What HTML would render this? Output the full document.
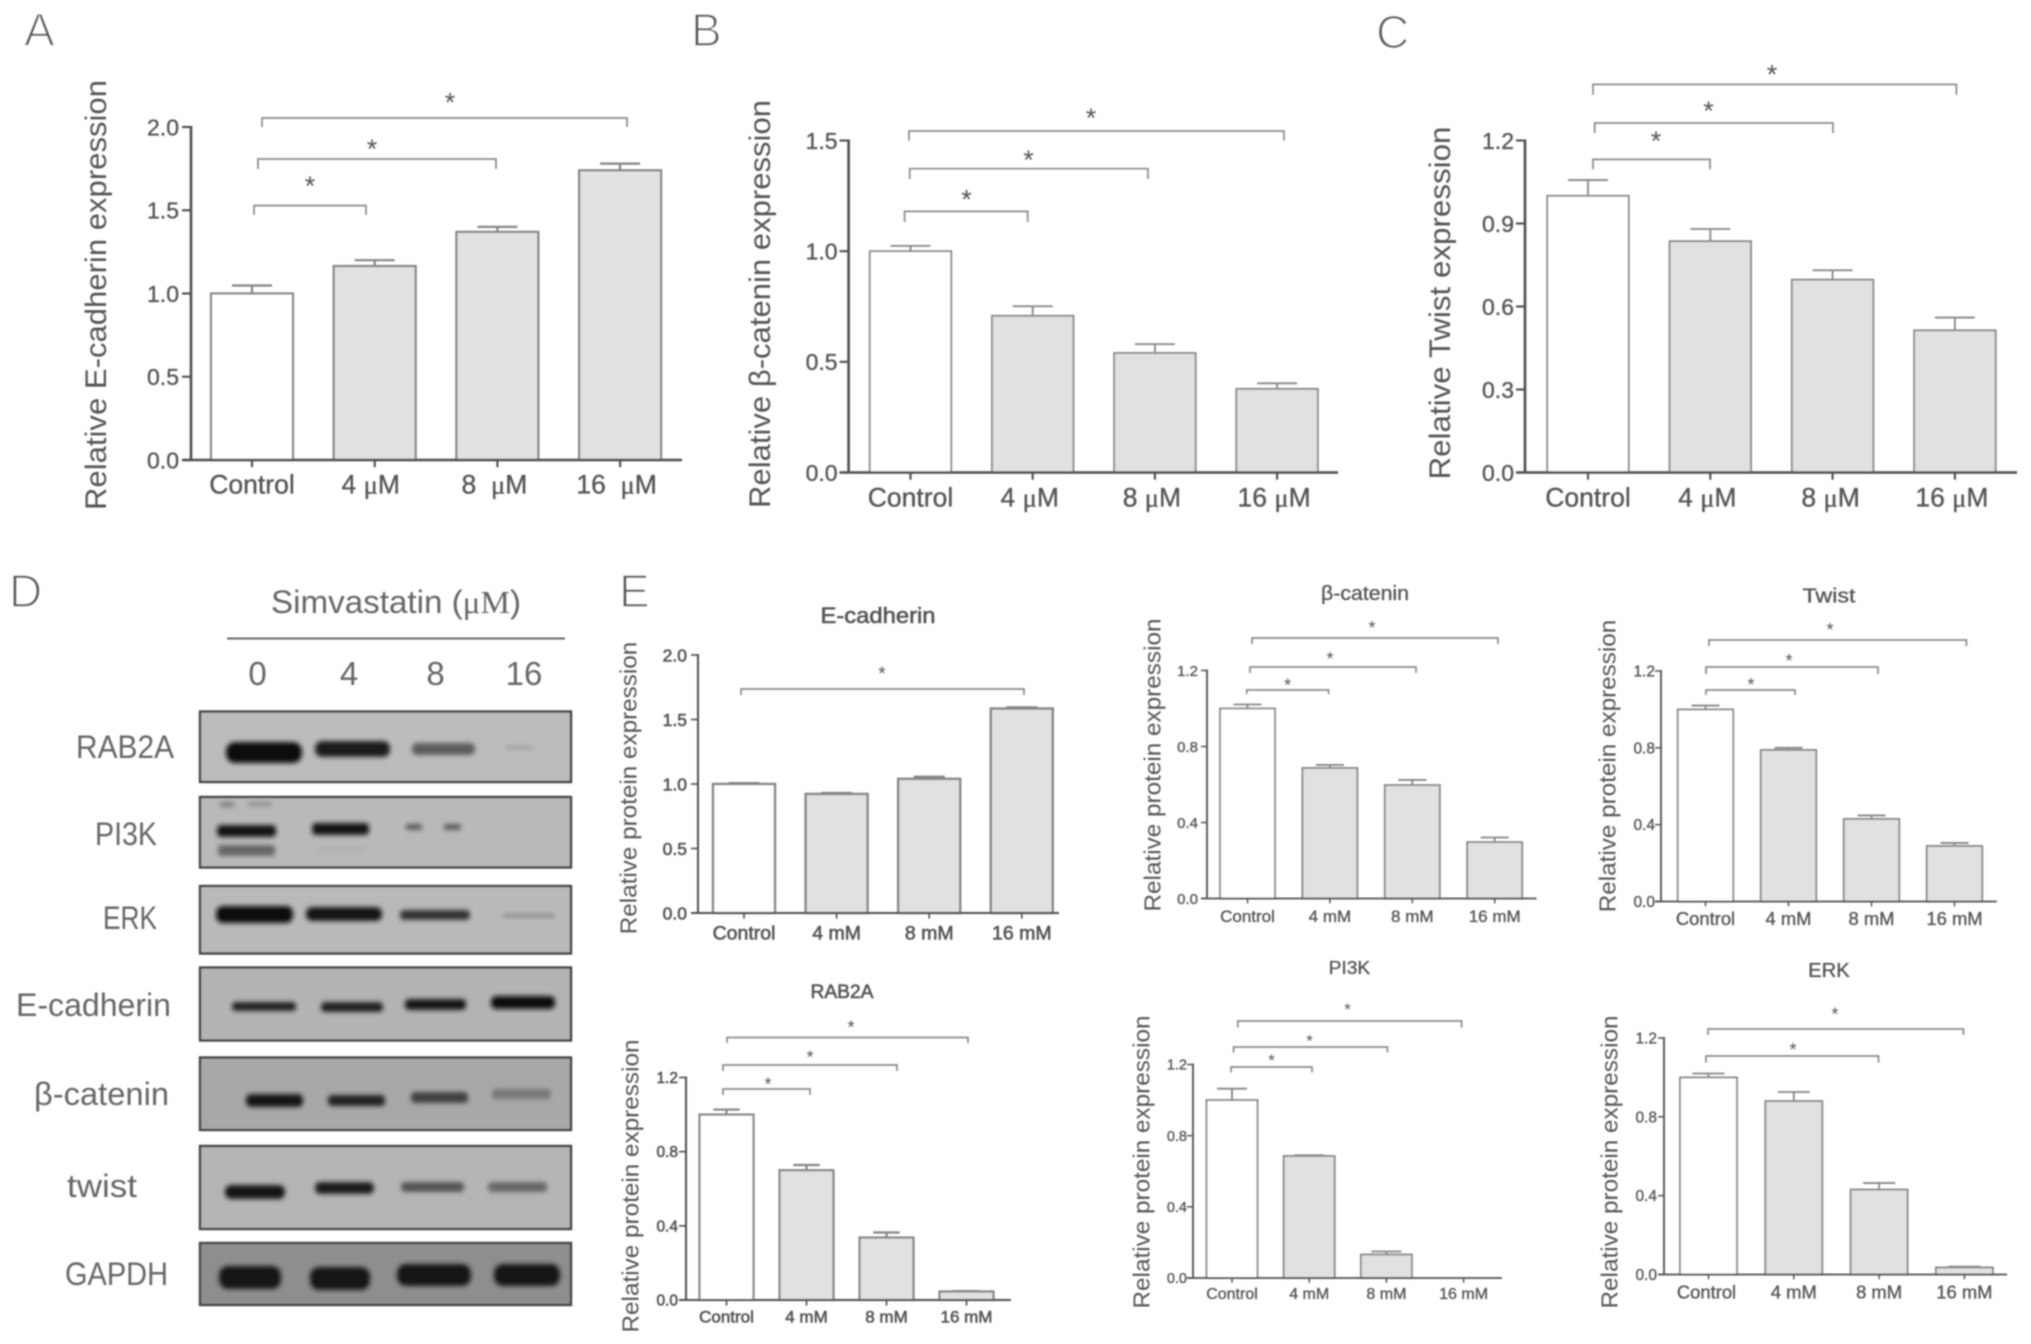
<!DOCTYPE html>
<html lang="en">
<head>
<meta charset="utf-8">
<title>Simvastatin expression figure</title>
<style>
html,body{margin:0;padding:0;background:#fff;}
svg{display:block;}
text{font-family:"Liberation Sans",sans-serif;fill:#555;white-space:pre;}
.panel{fill:#555;stroke:#fff;stroke-width:1.3px;paint-order:normal;}
</style>
</head>
<body>
<svg xmlns="http://www.w3.org/2000/svg" width="2031" height="1344" viewBox="0 0 2031 1344">
<defs>
<filter id="soft" x="-2%" y="-2%" width="104%" height="104%"><feGaussianBlur stdDeviation="0.7"/></filter>
<filter id="bandBlur" x="-30%" y="-100%" width="160%" height="300%"><feGaussianBlur stdDeviation="2.4"/></filter>
</defs>
<g id="root" filter="url(#soft)">
<text class="panel" x="24" y="46" font-size="46">A</text>
<text class="panel" x="691" y="46" font-size="46">B</text>
<text class="panel" x="1376" y="48" font-size="46">C</text>
<text class="panel" x="9" y="607" font-size="46">D</text>
<text class="panel" x="619" y="607" font-size="46">E</text>

<g id="chartA"></g>
<g id="chartB"></g>
<g id="chartC"></g>
<g id="chartEcad"></g>
<g id="chartRab"></g>
<g id="chartBeta"></g>
<g id="chartTwist"></g>
<g id="chartPi3k"></g>
<g id="chartErk"></g>

<g>
<text x="271" y="613" font-size="32" textLength="250" lengthAdjust="spacingAndGlyphs" style="fill:#666">Simvastatin (<tspan style="font-family:'Liberation Serif',serif">μM</tspan>)</text>
<rect x="227" y="637.5" width="338" height="2" fill="#666"/>
<text x="257.5" y="685" font-size="33" text-anchor="middle" style="fill:#666">0</text>
<text x="349" y="685" font-size="33" text-anchor="middle" style="fill:#666">4</text>
<text x="435.5" y="685" font-size="33" text-anchor="middle" style="fill:#666">8</text>
<text x="524" y="685" font-size="33" text-anchor="middle" style="fill:#666">16</text>

<text x="76" y="758" font-size="32" textLength="98" lengthAdjust="spacingAndGlyphs" style="fill:#666">RAB2A</text>
<text x="95" y="845" font-size="32" textLength="62" lengthAdjust="spacingAndGlyphs" style="fill:#666">PI3K</text>
<text x="103" y="929" font-size="32" textLength="54" lengthAdjust="spacingAndGlyphs" style="fill:#666">ERK</text>
<text x="16" y="1016" font-size="32" textLength="155" lengthAdjust="spacingAndGlyphs" style="fill:#666">E-cadherin</text>
<text x="34" y="1105" font-size="32" textLength="135" lengthAdjust="spacingAndGlyphs" style="fill:#666">β-catenin</text>
<text x="67" y="1197" font-size="32" textLength="70" lengthAdjust="spacingAndGlyphs" style="fill:#666">twist</text>
<text x="65" y="1285" font-size="32" textLength="103" lengthAdjust="spacingAndGlyphs" style="fill:#666">GAPDH</text>

<g>
<rect x="200" y="711.5" width="371" height="70.5" fill="#bcbcbc" stroke="#444" stroke-width="2.4"/>
<g filter="url(#bandBlur)">
<rect x="226" y="742" width="76" height="21" rx="9" fill="#101010"/>
<rect x="315" y="741" width="75" height="16" rx="7" fill="#1c1c1c"/>
<rect x="412" y="743" width="63" height="12" rx="5" fill="#5c5c5c"/>
<rect x="505" y="746" width="28" height="3" rx="1.5" fill="#9a9a9a"/>
</g>
</g>
<g>
<rect x="200" y="797" width="371" height="70.5" fill="#b9b9b9" stroke="#444" stroke-width="2.4"/>
<g filter="url(#bandBlur)">
<rect x="220" y="802" width="14" height="5" fill="#808080"/>
<rect x="248" y="802" width="24" height="4" fill="#8d8d8d"/>
<rect x="217" y="825" width="59" height="12" rx="4" fill="#141414"/>
<rect x="218" y="845" width="57" height="11" rx="3" fill="#666"/>
<rect x="312" y="823" width="57" height="12" rx="4" fill="#181818"/>
<rect x="318" y="848" width="48" height="2" fill="#a5a5a5"/>
<rect x="406" y="824" width="16" height="6" rx="2" fill="#5c5c5c"/>
<rect x="444" y="824" width="17" height="6" rx="2" fill="#5c5c5c"/>
</g>
</g>
<g>
<rect x="200" y="886" width="371" height="67.5" fill="#b9b9b9" stroke="#444" stroke-width="2.4"/>
<g filter="url(#bandBlur)">
<rect x="216" y="906" width="77" height="17" rx="7" fill="#101010"/>
<rect x="306" y="907" width="76" height="14" rx="6" fill="#181818"/>
<rect x="400" y="910" width="70" height="10" rx="4" fill="#333"/>
<rect x="503" y="914" width="52" height="3" rx="1.5" fill="#808080"/>
</g>
</g>
<g>
<rect x="200" y="967.5" width="371" height="73" fill="#b3b3b3" stroke="#444" stroke-width="2.4"/>
<g filter="url(#bandBlur)">
<rect x="232" y="1002" width="64" height="9" rx="3.5" fill="#222"/>
<rect x="321" y="1002" width="62" height="10" rx="4" fill="#222"/>
<rect x="405" y="999" width="61" height="11" rx="4" fill="#181818"/>
<rect x="491" y="996" width="64" height="13" rx="5" fill="#101010"/>
</g>
</g>
<g>
<rect x="200" y="1057.5" width="371" height="72.5" fill="#a8a8a8" stroke="#444" stroke-width="2.4"/>
<g filter="url(#bandBlur)">
<rect x="246" y="1094" width="57" height="13" rx="5" fill="#181818"/>
<rect x="328" y="1095" width="57" height="11" rx="4" fill="#242424"/>
<rect x="411" y="1092" width="57" height="11" rx="4" fill="#404040"/>
<rect x="492" y="1089" width="59" height="10" rx="4" fill="#787878"/>
</g>
</g>
<g>
<rect x="200" y="1146" width="371" height="83" fill="#b5b5b5" stroke="#444" stroke-width="2.4"/>
<g filter="url(#bandBlur)">
<rect x="225" y="1185" width="60" height="14" rx="6" fill="#161616"/>
<rect x="315" y="1182" width="59" height="12" rx="5" fill="#1e1e1e"/>
<rect x="401" y="1182" width="63" height="10" rx="4" fill="#555"/>
<rect x="488" y="1182" width="59" height="10" rx="4" fill="#666"/>
</g>
</g>
<g>
<rect x="200" y="1243" width="371" height="62" fill="#8e8e8e" stroke="#444" stroke-width="2.4"/>
<g filter="url(#bandBlur)">
<rect x="219" y="1266" width="62" height="23" rx="9" fill="#161616"/>
<rect x="310" y="1267" width="60" height="23" rx="9" fill="#161616"/>
<rect x="397" y="1264" width="74" height="22" rx="9" fill="#161616"/>
<rect x="494" y="1264" width="66" height="22" rx="9" fill="#161616"/>
</g>
</g>
</g>
</g>
</svg>
<script>
// ---------- chart data ----------
const categoriesMicro = ['Control', '4 μM', '8  μM', '16  μM'];
const categoriesB = ['Control', '4 μM', '8 μM', '16 μM'];
const categoriesE = ['Control', '4 mM', '8 mM', '16 mM'];

const valuesA = [1.0, 1.165, 1.37, 1.74];
const errorsA = [0.048, 0.035, 0.03, 0.04];
const ticksA = [0, 0.5, 1.0, 1.5, 2.0];
const tickLabelsA = ['0.0', '0.5', '1.0', '1.5', '2.0'];

const valuesB = [1.0, 0.708, 0.54, 0.378];
const errorsB = [0.024, 0.043, 0.04, 0.025];
const ticksB = [0, 0.5, 1.0, 1.5];
const tickLabelsB = ['0.0', '0.5', '1.0', '1.5'];

const valuesC = [1.0, 0.836, 0.697, 0.514];
const errorsC = [0.057, 0.044, 0.034, 0.046];
const ticksC = [0, 0.3, 0.6, 0.9, 1.2];
const tickLabelsC = ['0.0', '0.3', '0.6', '0.9', '1.2'];

const valuesEcad = [1.0, 0.923, 1.04, 1.585];
const errorsEcad = [0.006, 0.007, 0.016, 0.008];
const ticksEcad = [0, 0.5, 1.0, 1.5, 2.0];
const tickLabelsEcad = ['0.0', '0.5', '1.0', '1.5', '2.0'];

const valuesRab = [1.0, 0.70, 0.337, 0.046];
const errorsRab = [0.027, 0.028, 0.027, 0.002];
const valuesBeta = [1.0, 0.687, 0.597, 0.297];
const errorsBeta = [0.021, 0.016, 0.027, 0.024];
const valuesTwist = [1.0, 0.789, 0.43, 0.289];
const errorsTwist = [0.02, 0.011, 0.018, 0.016];
const valuesPi3k = [1.0, 0.686, 0.132, 0];
const errorsPi3k = [0.064, 0.004, 0.017, 0];
const valuesErk = [1.0, 0.88, 0.431, 0.036];
const errorsErk = [0.02, 0.046, 0.033, 0.004];
const ticksSmall = [0, 0.4, 0.8, 1.2];
const tickLabelsSmall = ['0.0', '0.4', '0.8', '1.2'];

// ---------- layout (pixels, independent of the data) ----------
const layoutA = {axisX:191,y0:460,yTop:127,yMax:2,xEnd:682,first:252,step:122.7,barW:82,capW:40,tickLen:9,labelGap:12,axisW:2.6,barSW:2.2,tickFont:23,catFont:26.5,catY:484,catDx:[0,-4,-3,-3.5],textStroke:0.35,
  yTitle:{text:'Relative E-cadherin expression',xc:95,yc:295,len:430,size:30},
  brackets:[[254,366,205.6,215],[258,496,159,169],[262,627,118,127]],stars:[[310,182],[372,145],[450,98.5]],starSize:27};
const layoutB = {axisX:848.6,y0:472.5,yTop:140.5,yMax:1.5,xEnd:1338,first:910.5,step:122.2,barW:81.5,capW:40,tickLen:9,labelGap:11,axisW:2.6,barSW:1.8,tickFont:23,catFont:26.5,catY:497,catDx:[0,-3,-3,-3],textStroke:0.35,
  yTitle:{text:'Relative β-catenin expression',xc:759,yc:304,len:408,size:30},
  brackets:[[904.6,1027.7,211.4,222],[909.7,1148,168.7,179],[909,1284,131,140.5]],stars:[[966.5,195.6],[1028.5,156],[1091,114]],starSize:27};
const layoutC = {axisX:1525,y0:472.5,yTop:140.5,yMax:1.2,xEnd:2017,first:1588,step:122.3,barW:81.5,capW:40,tickLen:9,labelGap:11,axisW:2.6,barSW:1.8,tickFont:23,catFont:26.5,catY:497,catDx:[0,-3,-2,-3],textStroke:0.35,
  yTitle:{text:'Relative Twist expression',xc:1439,yc:303,len:353,size:30},
  brackets:[[1593,1710,159.4,169.4],[1594.7,1833,123,133],[1593,1956.4,84.4,94.7]],stars:[[1656,137],[1708.5,107],[1772,70.6]],starSize:27};
const layoutEcad = {axisX:698,y0:913,yTop:655,yMax:2,xEnd:1059,first:744,step:92.6,barW:62,capW:31,tickLen:7,labelGap:11,axisW:2,barSW:2.4,tickFont:17.5,catFont:19.5,catY:932.5,catDx:[0,0,0,0],textStroke:0.6,
  title:{text:'E-cadherin',xc:878,cy:615,len:115,size:22},
  yTitle:{text:'Relative protein expression',xc:628,yc:788,len:292.5,size:23},
  brackets:[[741,1024,689,695]],stars:[[882,671]],starSize:19};
const layoutRab = {axisX:686,y0:1300,yTop:1077.5,yMax:1.2,xEnd:1011,first:726.5,step:80,barW:54,capW:26.5,tickLen:7,labelGap:8,axisW:2,barSW:2.2,tickFont:15.5,catFont:17,catY:1316.5,catDx:[0,0,0,0],textStroke:0.6,
  title:{text:'RAB2A',xc:842,cy:991,len:63,size:19},
  yTitle:{text:'Relative protein expression',xc:630,yc:1186,len:293,size:23},
  brackets:[[723,810,1089,1095],[723,897,1065,1071],[727,968,1037.5,1043]],stars:[[768,1082],[810,1055],[851,1025]],starSize:18};
const layoutBeta = {axisX:1207,y0:898.5,yTop:670.5,yMax:1.2,xEnd:1536.5,first:1247.5,step:82.4,barW:55,capW:28,tickLen:6,labelGap:9,axisW:1.8,barSW:1.8,tickFont:15,catFont:17,catY:916,catDx:[0,0,0,0],textStroke:0.35,
  title:{text:'β-catenin',xc:1365,cy:593,len:88,size:20},
  yTitle:{text:'Relative protein expression',xc:1152,yc:765,len:293,size:23},
  brackets:[[1246.7,1328.6,690,694],[1250,1416,667,673],[1252,1498,638,644]],stars:[[1287.6,683],[1330,656.5],[1372,625.5]],starSize:18};
const layoutTwist = {axisX:1661,y0:901.5,yTop:671,yMax:1.2,xEnd:1996.7,first:1705.5,step:83,barW:55.5,capW:28,tickLen:6,labelGap:6,axisW:1.8,barSW:1.8,tickFont:15.5,catFont:18.4,catY:918.5,catDx:[0,0,0,0],textStroke:0.35,
  title:{text:'Twist',xc:1829,cy:595.5,len:53,size:20},
  yTitle:{text:'Relative protein expression',xc:1607,yc:766,len:292.5,size:23},
  brackets:[[1706,1795,690,695],[1706,1878,667,674],[1709,1966.4,640,646]],stars:[[1751,682.5],[1789,658.5],[1830,627.5]],starSize:18};
const layoutPi3k = {axisX:1193,y0:1278,yTop:1064.5,yMax:1.2,xEnd:1502,first:1232,step:77.2,barW:51,capW:30,tickLen:6,labelGap:6,axisW:1.8,barSW:1.8,tickFont:14.5,catFont:16,catY:1293,catDx:[0,0,0,0],textStroke:0.35,
  title:{text:'PI3K',xc:1349.4,cy:967.5,len:41.6,size:18},
  yTitle:{text:'Relative protein expression',xc:1141,yc:1162,len:293,size:23},
  brackets:[[1231,1312,1067,1072.5],[1233.6,1387.4,1047,1052.5],[1237.8,1461.6,1021,1027.5]],stars:[[1271.6,1058],[1309.6,1038.5],[1347.6,1007]],starSize:17};
const layoutErk = {axisX:1664,y0:1274.5,yTop:1038,yMax:1.2,xEnd:2007,first:1708.5,step:85.3,barW:57,capW:32,tickLen:6,labelGap:7,axisW:1.8,barSW:1.8,tickFont:15.5,catFont:18.4,catY:1292,catDx:[-2,0,0,0],textStroke:0.35,
  title:{text:'ERK',xc:1829,cy:970,len:41.6,size:20},
  yTitle:{text:'Relative protein expression',xc:1609,yc:1162,len:293,size:23},
  brackets:[[1706,1878.5,1056,1062.5],[1708,1963.4,1029,1035]],stars:[[1793,1047.5],[1835,1012]],starSize:18};

// ---------- drawing ----------
const NS = 'http://www.w3.org/2000/svg';
const AXIS = '#4d4d4d', BAR = '#858585', GREY = '#e1e1e1', BRK = '#8a8a8a', INK = '#555';

function make(tag, attrs, parent) {
  const el = document.createElementNS(NS, tag);
  for (const k in attrs) el.setAttribute(k, attrs[k]);
  parent.appendChild(el);
  return el;
}

function drawChart(id, layout, categories, values, errors, ticks, tickLabels) {
  const g = document.getElementById(id);
  const yScale = v => layout.y0 - (v / layout.yMax) * (layout.y0 - layout.yTop);
  const xScale = i => layout.first + i * layout.step;

  categories.forEach((cat, i) => {
    const cx = xScale(i);
    const top = yScale(values[i]);
    const bar = make('rect', {x: cx - layout.barW / 2, y: top, width: layout.barW, height: Math.max(0, layout.y0 - top), fill: i === 0 ? '#fff' : GREY, stroke: BAR, 'stroke-width': layout.barSW}, g);
    
    
    if (errors[i] > 0) {
      const errTop = yScale(values[i] + errors[i]);
      const stem = make('line', {x1: cx, x2: cx, y1: top, y2: errTop, stroke: BAR, 'stroke-width': layout.barSW}, g);
      
      
      const cap = make('line', {x1: cx - layout.capW / 2, x2: cx + layout.capW / 2, y1: errTop, y2: errTop, stroke: BAR, 'stroke-width': layout.barSW}, g);
      
      
    }
    const xt = make('line', {x1: cx, x2: cx, y1: layout.y0, y2: layout.y0 + layout.tickLen * 0.8, stroke: AXIS, 'stroke-width': layout.axisW * 0.8}, g);
    
    
    const lab = make('text', {x: cx + layout.catDx[i], y: layout.catY + layout.catFont * 0.36, 'font-size': layout.catFont, 'text-anchor': 'middle', stroke: INK, 'stroke-width': layout.textStroke}, g);
    
    
    const parts = cat.split('μ');
    if (parts.length > 1) {
      make('tspan', {}, lab).textContent = parts[0];
      const mu = make('tspan', {style: "font-family:'Liberation Serif',serif"}, lab);
      mu.textContent = 'μ';
      make('tspan', {}, lab).textContent = parts[1];
    } else {
      lab.textContent = cat;
    }
  });

  const yAxis = make('line', {x1: layout.axisX, x2: layout.axisX, y1: layout.yTop - 1, y2: layout.y0, stroke: AXIS, 'stroke-width': layout.axisW}, g);
  
  
  const xAxis = make('line', {x1: layout.axisX - layout.tickLen, x2: layout.xEnd, y1: layout.y0, y2: layout.y0, stroke: AXIS, 'stroke-width': layout.axisW}, g);
  
  

  ticks.forEach((t, i) => {
    const y = yScale(t);
    const tick = make('line', {x1: layout.axisX - layout.tickLen, x2: layout.axisX, y1: y, y2: y, stroke: AXIS, 'stroke-width': layout.axisW * 0.8}, g);
    
    
    const lab = make('text', {x: layout.axisX - layout.labelGap, y: y + layout.tickFont * 0.36, 'font-size': layout.tickFont, 'text-anchor': 'end', stroke: INK, 'stroke-width': layout.textStroke}, g);
    
    
    lab.textContent = tickLabels[i];
  });

  const yt = layout.yTitle;
  const yTitle = make('text', {transform: 'translate(' + (yt.xc + yt.size * 0.36) + ' ' + yt.yc + ') rotate(-90)', 'font-size': yt.size, 'text-anchor': 'middle', textLength: yt.len, lengthAdjust: 'spacingAndGlyphs'}, g);
  
  
  yTitle.textContent = yt.text;

  if (layout.title) {
    const t = layout.title;
    const title = make('text', {x: t.xc, y: t.cy + t.size * 0.36, 'font-size': t.size, 'text-anchor': 'middle', textLength: t.len, lengthAdjust: 'spacingAndGlyphs', stroke: INK, 'stroke-width': layout.textStroke}, g);
    
    
    title.textContent = t.text;
  }

  layout.brackets.forEach(b => {
    const br = make('path', {d: 'M' + b[0] + ' ' + b[3] + 'V' + b[2] + 'H' + b[1] + 'V' + b[3], fill: 'none', stroke: BRK, 'stroke-width': 1.7}, g);
    
    
  });
  layout.stars.forEach(s => {
    const star = make('text', {x: s[0], y: s[1] + layout.starSize * 0.48, 'font-size': layout.starSize, 'text-anchor': 'middle'}, g);
    
    
    star.textContent = '*';
  });
}

drawChart('chartA', layoutA, categoriesMicro, valuesA, errorsA, ticksA, tickLabelsA);
drawChart('chartB', layoutB, categoriesB, valuesB, errorsB, ticksB, tickLabelsB);
drawChart('chartC', layoutC, categoriesB, valuesC, errorsC, ticksC, tickLabelsC);
drawChart('chartEcad', layoutEcad, categoriesE, valuesEcad, errorsEcad, ticksEcad, tickLabelsEcad);
drawChart('chartRab', layoutRab, categoriesE, valuesRab, errorsRab, ticksSmall, tickLabelsSmall);
drawChart('chartBeta', layoutBeta, categoriesE, valuesBeta, errorsBeta, ticksSmall, tickLabelsSmall);
drawChart('chartTwist', layoutTwist, categoriesE, valuesTwist, errorsTwist, ticksSmall, tickLabelsSmall);
drawChart('chartPi3k', layoutPi3k, categoriesE, valuesPi3k, errorsPi3k, ticksSmall, tickLabelsSmall);
drawChart('chartErk', layoutErk, categoriesE, valuesErk, errorsErk, ticksSmall, tickLabelsSmall);
</script>
</body>
</html>
